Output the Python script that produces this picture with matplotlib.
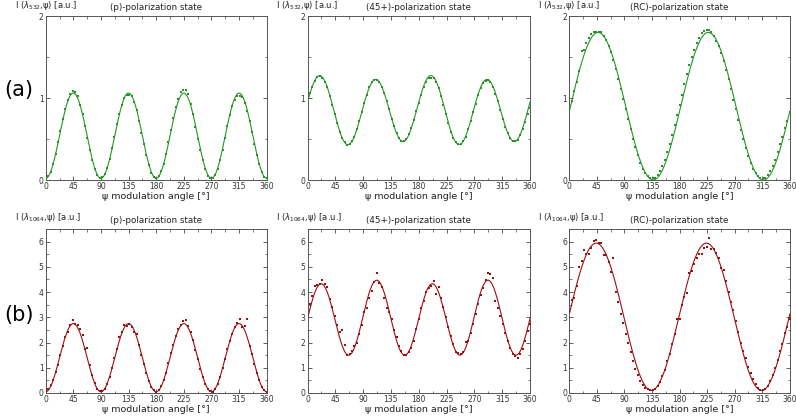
import numpy as np
import matplotlib
matplotlib.use("Agg")
import matplotlib.pyplot as plt
from matplotlib.ticker import MultipleLocator

plt.rcParams['font.family'] = ['DejaVu Sans']

# ---------------- data ----------------
psi = list(range(0, 361, 4))

a_p = [0.03, 0.05, 0.10, 0.20, 0.32, 0.46, 0.60, 0.75, 0.87, 0.98, 1.05, 1.08, 1.07, 1.03, 0.92, 0.80, 0.66, 0.51, 0.37, 0.24, 0.13, 0.06, 0.03,
       0.04, 0.07, 0.15, 0.26, 0.39, 0.53, 0.68, 0.81, 0.92, 1.00, 1.04, 1.04, 1.02, 0.95, 0.85, 0.72, 0.57, 0.44, 0.30, 0.18, 0.09, 0.04,
       0.02, 0.05, 0.11, 0.20, 0.32, 0.46, 0.61, 0.76, 0.89, 0.99, 1.07, 1.10, 1.10, 1.05, 0.93, 0.80, 0.65, 0.50, 0.36, 0.24, 0.13, 0.05, 0.02,
       0.03, 0.06, 0.13, 0.24, 0.37, 0.51, 0.66, 0.79, 0.90, 0.98, 1.02, 1.03, 1.01, 0.94, 0.84, 0.72, 0.58, 0.44, 0.30, 0.19, 0.10, 0.04,
       0.02]

a_45 = [0.97, 1.06, 1.14, 1.21, 1.26, 1.27, 1.25, 1.20, 1.13, 1.03, 0.92, 0.81, 0.70, 0.59, 0.51, 0.46, 0.43, 0.44, 0.47, 0.53, 0.62, 0.72, 0.83,
        0.94, 1.04, 1.13, 1.19, 1.22, 1.22, 1.20, 1.14, 1.06, 0.96, 0.86, 0.75, 0.66, 0.57, 0.51, 0.48, 0.47, 0.50, 0.56, 0.63, 0.73, 0.84,
        0.94, 1.04, 1.13, 1.20, 1.24, 1.25, 1.24, 1.19, 1.12, 1.02, 0.91, 0.80, 0.69, 0.58, 0.51, 0.46, 0.44, 0.44, 0.47, 0.53, 0.62, 0.72, 0.83,
        0.93, 1.04, 1.12, 1.18, 1.21, 1.22, 1.19, 1.13, 1.05, 0.96, 0.85, 0.75, 0.65, 0.57, 0.51, 0.48, 0.47, 0.49, 0.55, 0.62, 0.71, 0.80,
        0.88]

a_rc = [0.83, 0.96, 1.08, 1.20, 1.33, 1.57, 1.58, 1.67, 1.73, 1.78, 1.81, 1.81, 1.81, 1.80, 1.76, 1.71, 1.64, 1.56, 1.46, 1.35, 1.23, 1.11, 0.99,
        0.86, 0.74, 0.62, 0.50, 0.40, 0.30, 0.21, 0.14, 0.08, 0.05, 0.03, 0.02, 0.03, 0.06, 0.11, 0.17, 0.25, 0.34, 0.44, 0.55, 0.67, 0.79,
        0.91, 1.04, 1.17, 1.29, 1.40, 1.50, 1.59, 1.67, 1.73, 1.79, 1.82, 1.83, 1.83, 1.80, 1.76, 1.70, 1.63, 1.55, 1.45, 1.34, 1.23, 1.11, 0.98,
        0.86, 0.73, 0.61, 0.50, 0.39, 0.29, 0.21, 0.14, 0.09, 0.05, 0.03, 0.02, 0.03, 0.06, 0.11, 0.17, 0.25, 0.34, 0.44, 0.52, 0.63, 0.72,
        0.83]

b_p = [0.08, 0.15, 0.30, 0.50, 0.82, 1.12, 1.50, 1.88, 2.20, 2.42, 2.70, 2.90, 2.74, 2.70, 2.52, 2.28, 1.76, 1.78, 1.10, 0.70, 0.38, 0.16, 0.07,
       0.06, 0.15, 0.36, 0.62, 0.98, 1.38, 1.75, 2.20, 2.42, 2.70, 2.65, 2.75, 2.62, 2.42, 2.35, 1.90, 1.52, 1.15, 0.78, 0.48, 0.25, 0.10,
       0.05, 0.12, 0.26, 0.52, 0.80, 1.18, 1.58, 1.92, 2.25, 2.52, 2.68, 2.85, 2.90, 2.65, 2.40, 2.10, 1.72, 1.35, 0.97, 0.62, 0.36, 0.15, 0.06,
       0.05, 0.15, 0.35, 0.65, 0.98, 1.35, 1.75, 2.08, 2.35, 2.62, 2.78, 2.95, 2.62, 2.65, 2.95, 1.88, 1.55, 1.15, 0.80, 0.50, 0.25, 0.10,
       0.04]

b_45 = [3.15, 3.52, 3.85, 4.25, 4.30, 4.32, 4.48, 4.33, 4.22, 3.72, 3.40, 3.05, 2.70, 2.40, 2.48, 1.90, 1.50, 1.55, 1.65, 1.85, 1.97, 2.35, 2.70,
        3.22, 3.35, 3.78, 4.05, 4.38, 4.75, 4.35, 4.22, 3.75, 3.35, 3.22, 2.92, 2.50, 2.20, 1.85, 1.65, 1.50, 1.52, 1.62, 1.80, 2.05, 2.52,
        2.95, 3.35, 3.65, 4.00, 4.18, 4.25, 4.42, 3.92, 4.22, 3.75, 3.42, 3.02, 2.62, 2.25, 1.95, 1.62, 1.60, 1.55, 1.62, 2.02, 2.05, 2.38, 2.72,
        3.15, 3.52, 3.88, 4.15, 4.48, 4.74, 4.70, 4.54, 3.65, 3.38, 3.05, 2.72, 2.38, 2.05, 1.78, 1.55, 1.45, 1.40, 1.55, 1.75, 2.08, 2.45,
        2.72]

b_rc = [3.20, 3.70, 3.78, 4.25, 4.98, 5.25, 5.65, 5.50, 5.50, 5.75, 6.03, 6.05, 5.95, 5.95, 5.45, 5.45, 5.20, 4.80, 5.35, 4.00, 3.62, 3.15, 2.78,
        2.35, 1.98, 1.62, 1.28, 0.95, 0.70, 0.48, 0.30, 0.18, 0.14, 0.12, 0.12, 0.16, 0.28, 0.45, 0.68, 0.92, 1.25, 1.55, 1.95, 2.32, 2.92,
        2.95, 3.50, 3.80, 3.95, 4.75, 4.85, 5.10, 5.35, 5.50, 5.50, 5.75, 5.80, 6.15, 5.72, 5.70, 5.55, 5.35, 4.95, 4.88, 4.45, 4.00, 3.62, 3.30,
        2.85, 2.42, 1.98, 1.68, 1.38, 1.05, 0.80, 0.55, 0.35, 0.18, 0.12, 0.10, 0.14, 0.28, 0.48, 0.72, 0.98, 1.30, 1.65, 1.95, 2.38, 2.62,
        2.95]

# fit parameters: offset, amp(4psi), phase(4psi) deg, amp(2psi), phase(2psi) deg
fit_a_p = [0.54, 0.52, 180, 0.0, 0]
fit_a_45 = [0.85, 0.40, 80, 0.03, 0]
fit_a_rc = [0.90, 0.0, 0, 0.90, 94]
fit_b_p = [1.40, 1.35, 180, 0.0, 0]
fit_b_45 = [2.95, 1.45, 88, 0.07, 224]
fit_b_rc = [3.02, 0.0, 0, 2.92, 88]

titles = ["(p)-polarization state", "(45+)-polarization state", "(RC)-polarization state"]
xticks = [0, 45, 90, 135, 180, 225, 270, 315, 360]

green = "#259625"
red = "#9b1010"

W, H = 796, 417
fig = plt.figure(figsize=(W / 100, H / 100), dpi=100)

cols = [(45.7, 221.0), (307.5, 222.5), (569.3, 220.5)]
rows = [(16, 180), (229, 393)]

row_data = [
    ([a_p, a_45, a_rc], [fit_a_p, fit_a_45, fit_a_rc], green, 2.0, [0, 1, 2], 0.5, "532"),
    ([b_p, b_45, b_rc], [fit_b_p, fit_b_45, fit_b_rc], red, 6.5, [0, 1, 2, 3, 4, 5, 6], 0.5, "1064"),
]

psi_arr = np.array(psi, dtype=float)
grid = np.linspace(0, 360, 721)


def model(x, p):
    c, a4, p4, a2, p2 = p
    return c + a4 * np.cos(np.radians(4 * x - p4)) + a2 * np.cos(np.radians(2 * x - p2))


for r, (top, bot) in enumerate(rows):
    series, fits, color, ymax, yt, ymin_step, lam = row_data[r]
    for c, (left, width) in enumerate(cols):
        ax = fig.add_axes([left / W, 1 - bot / H, width / W, (bot - top) / H])
        vals = series[c]
        assert len(vals) == len(psi)
        ax.plot(grid, model(grid, fits[c]), color=color, lw=0.8, zorder=2)
        ax.plot(psi_arr, vals, 's', color=color, ms=2.0, mec=color, mew=0, zorder=3)
        ax.set_xlim(0, 360)
        ax.set_ylim(0, ymax)
        ax.set_xticks(xticks)
        ax.set_yticks(yt)
        ax.xaxis.set_minor_locator(MultipleLocator(22.5))
        ax.yaxis.set_minor_locator(MultipleLocator(ymin_step))
        ax.tick_params(which='both', direction='in', top=True, right=True,
                       labelsize=5.5, labelcolor='#333333', color='#444444', pad=1.5)
        ax.tick_params(which='major', length=3, width=0.6)
        ax.tick_params(which='minor', length=1.8, width=0.5)
        for s in ax.spines.values():
            s.set_linewidth(0.7)
            s.set_color('#555555')
        ax.set_xlabel("ψ modulation angle [°]", fontsize=6.8, labelpad=0.5, color='#222222')
        fig.text((left + width / 2) / W, 1 - (top - 9) / H, titles[c],
                 ha='center', va='center', fontsize=6.3, color='#222222')
        fig.text((left - 31) / W, 1 - (top - 11) / H,
                 r"I ($\lambda_{%s}$,ψ) [a.u.]" % lam,
                 ha='left', va='center', fontsize=6.0, color='#222222')

fig.text(4 / W, 1 - 90 / H, "(a)", fontsize=15, ha='left', va='center')
fig.text(4 / W, 1 - 315 / H, "(b)", fontsize=15, ha='left', va='center')

fig.savefig("out.png", dpi=100)
